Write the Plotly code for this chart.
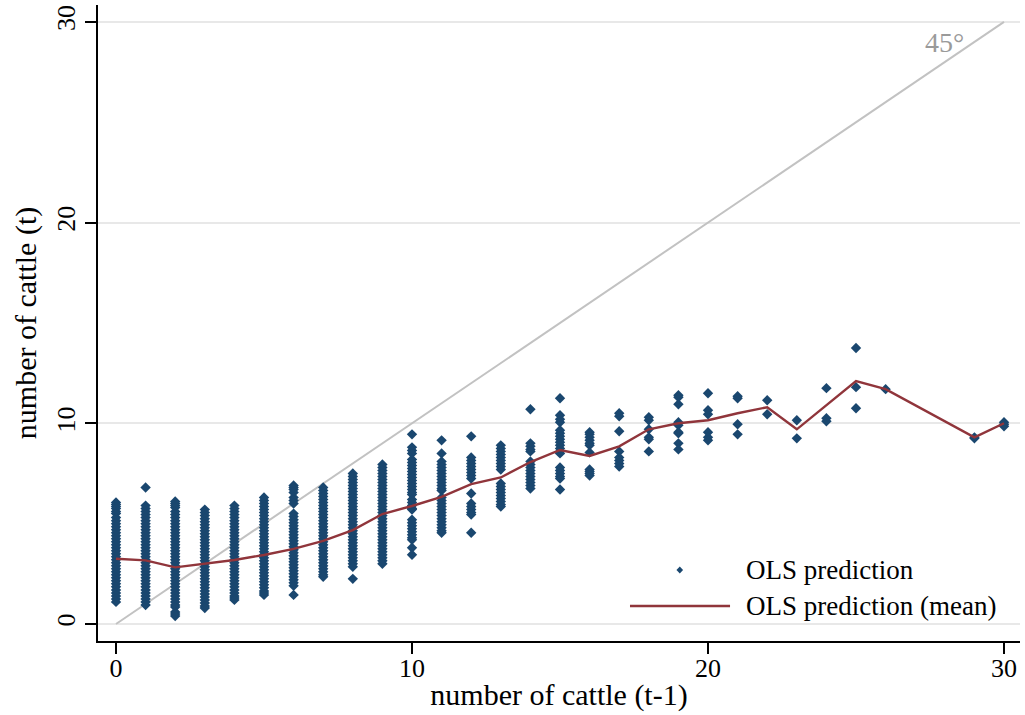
import plotly.graph_objects as go

# ---- data ----
y_at_0 = [6.05, 5.95, 5.85, 5.75, 5.6, 5.5, 5.3, 5.15, 5.0, 4.85, 4.7, 4.55, 4.4, 4.25, 4.1,
          3.95, 3.8, 3.65, 3.5, 3.35, 3.2, 3.05, 2.9, 2.75, 2.6, 2.45, 2.3, 2.15, 2.0, 1.85,
          1.7, 1.55, 1.4, 1.25, 1.1]
y_at_1 = [6.8, 5.9, 5.75, 5.6, 5.45, 5.3, 5.15, 5.0, 4.85, 4.7, 4.55, 4.4, 4.25, 4.1, 3.95,
          3.8, 3.65, 3.5, 3.35, 3.2, 3.05, 2.9, 2.75, 2.6, 2.45, 2.3, 2.15, 2.0, 1.85, 1.7,
          1.55, 1.4, 1.25, 1.1, 0.95]
y_at_2 = [6.1, 6.0, 5.9, 5.8, 5.6, 5.45, 5.3, 5.15, 5.0, 4.85, 4.7, 4.55, 4.4, 4.25, 4.1,
          3.95, 3.8, 3.65, 3.5, 3.35, 3.2, 3.05, 2.9, 2.75, 2.6, 2.45, 2.3, 2.15, 2.0, 1.85,
          1.7, 1.55, 1.4, 1.25, 1.1, 0.95, 0.85, 0.6, 0.5, 0.4]
y_at_3 = [5.7, 5.55, 5.4, 5.25, 5.1, 4.95, 4.8, 4.65, 4.5, 4.35, 4.2, 4.05, 3.9, 3.75, 3.6,
          3.45, 3.3, 3.15, 3.0, 2.85, 2.7, 2.55, 2.4, 2.25, 2.1, 1.95, 1.8, 1.65, 1.5, 1.35,
          1.2, 1.05, 0.9, 0.8]
y_at_4 = [5.9, 5.75, 5.6, 5.45, 5.3, 5.15, 5.0, 4.85, 4.7, 4.55, 4.4, 4.25, 4.1, 3.95, 3.8,
          3.65, 3.5, 3.35, 3.2, 3.05, 2.9, 2.75, 2.6, 2.45, 2.3, 2.15, 2.0, 1.85, 1.7, 1.55,
          1.4, 1.3, 1.2]
y_at_5 = [6.3, 6.15, 6.0, 5.85, 5.7, 5.55, 5.4, 5.25, 5.1, 4.95, 4.8, 4.65, 4.5, 4.35, 4.2,
          4.05, 3.9, 3.75, 3.6, 3.45, 3.3, 3.15, 3.0, 2.85, 2.7, 2.55, 2.4, 2.25, 2.1, 1.95,
          1.8, 1.65, 1.55, 1.45]
y_at_6 = [6.9, 6.8, 6.7, 6.55, 6.3, 6.15, 6.0, 5.5, 5.35, 5.2, 5.05, 4.9, 4.75, 4.6, 4.45,
          4.3, 4.15, 4.0, 3.85, 3.7, 3.55, 3.4, 3.25, 3.1, 2.95, 2.8, 2.65, 2.5, 2.35, 2.2,
          2.05, 1.9, 1.45]
y_at_7 = [6.8, 6.65, 6.5, 6.35, 6.2, 6.05, 5.9, 5.75, 5.6, 5.45, 5.3, 5.15, 5.0, 4.85, 4.7,
          4.55, 4.4, 4.25, 4.1, 3.95, 3.8, 3.65, 3.5, 3.35, 3.2, 3.05, 2.9, 2.75, 2.6, 2.45,
          2.35]
y_at_8 = [7.5, 7.35, 7.2, 7.05, 6.9, 6.75, 6.6, 6.45, 6.3, 6.15, 6.0, 5.85, 5.7, 5.55, 5.4,
          5.25, 5.1, 4.95, 4.8, 4.65, 4.5, 4.35, 4.2, 4.05, 3.9, 3.75, 3.6, 3.45, 3.3, 3.15,
          3.0, 2.85, 2.25]
y_at_9 = [7.95, 7.8, 7.65, 7.5, 7.35, 7.2, 7.05, 6.9, 6.75, 6.6, 6.45, 6.3, 6.15, 6.0, 5.85,
          5.7, 5.55, 5.4, 5.25, 5.1, 4.95, 4.8, 4.65, 4.5, 4.35, 4.2, 4.05, 3.9, 3.75, 3.6,
          3.45, 3.3, 3.15, 3.0]
y_at_10 = [9.45, 8.8, 8.65, 8.5, 8.2, 8.05, 7.9, 7.75, 7.6, 7.45, 7.3, 7.15, 7.0, 6.85, 6.7,
           6.55, 6.45, 6.2, 6.05, 5.9, 5.75, 5.7, 5.2, 5.05, 4.9, 4.75, 4.6, 4.45, 4.3, 4.2,
           3.8, 3.45]
y_at_11 = [9.15, 8.5, 8.1, 7.95, 7.8, 7.65, 7.5, 7.35, 7.2, 7.05, 6.9, 6.75, 6.65, 6.3, 6.15,
           6.0, 5.85, 5.7, 5.55, 5.4, 5.25, 5.1, 4.95, 4.8, 4.65, 4.55]
y_at_12 = [9.35, 8.3, 8.15, 8.0, 7.85, 7.7, 7.55, 7.4, 7.25, 6.5, 6.0, 5.85, 5.7, 5.55,
           5.45, 4.55]
y_at_13 = [8.9, 8.75, 8.6, 8.45, 8.3, 8.15, 8.0, 7.85, 7.7, 7.0, 6.85, 6.7, 6.55, 6.4, 6.25,
           6.1, 5.95, 5.85]
y_at_14 = [10.7, 9.0, 8.85, 8.7, 8.6, 8.1, 7.95, 7.8, 7.65, 7.5, 7.35, 7.2, 7.05, 6.9, 6.75]
y_at_15 = [11.25, 10.4, 10.2, 10.05, 9.65, 9.5, 9.35, 9.2, 9.05, 8.9, 8.75, 8.6, 8.5, 7.8,
           7.65, 7.5, 7.35, 7.25, 6.7]
y_at_16 = [9.55, 9.45, 9.3, 9.15, 9.0, 8.9, 8.55, 7.7, 7.6, 7.5, 7.4]
y_at_17 = [10.5, 10.35, 9.6, 8.6, 8.3, 8.15, 8.0, 7.85]
y_at_18 = [10.3, 10.15, 9.7, 9.3, 9.2, 8.6]
y_at_19 = [11.4, 11.3, 10.95, 10.05, 9.9, 9.55, 9.5, 9.0, 8.7]
y_at_20 = [11.5, 10.65, 10.45, 9.55, 9.3, 9.15]
y_at_21 = [11.35, 11.25, 9.95, 9.45]
y_at_22 = [11.15, 10.45]
y_at_23 = [10.15, 9.25]
y_at_24 = [11.75, 10.25, 10.1]
y_at_25 = [13.75, 11.8, 10.75]
y_at_26 = [11.7]
y_at_29 = [9.3, 9.25]
y_at_30 = [10.05, 9.95, 9.85]

mean_x = [0, 1, 2, 3, 4, 5, 6, 7, 8, 9, 10, 11, 12, 13, 14, 15, 16, 17, 18, 19, 20,
          21, 22, 23, 24, 25, 26, 29, 30]
mean_y = [3.25, 3.17, 2.82, 2.99, 3.19, 3.44, 3.74, 4.14, 4.68, 5.48, 5.88, 6.33, 6.97,
          7.3, 8.07, 8.67, 8.37, 8.85, 9.7, 10.0, 10.15, 10.5, 10.8, 9.7, 10.9, 12.1,
          11.7, 9.3, 10.0]

diag_x = [0, 30]
diag_y = [0, 30]

y_ticks = [0, 10, 20, 30]
x_ticks = [0, 10, 20, 30]

columns = {0: y_at_0, 1: y_at_1, 2: y_at_2, 3: y_at_3, 4: y_at_4, 5: y_at_5, 6: y_at_6,
           7: y_at_7, 8: y_at_8, 9: y_at_9, 10: y_at_10, 11: y_at_11, 12: y_at_12,
           13: y_at_13, 14: y_at_14, 15: y_at_15, 16: y_at_16, 17: y_at_17, 18: y_at_18,
           19: y_at_19, 20: y_at_20, 21: y_at_21, 22: y_at_22, 23: y_at_23, 24: y_at_24,
           25: y_at_25, 26: y_at_26, 29: y_at_29, 30: y_at_30}

pts_x, pts_y = [], []
for xv, ys in columns.items():
    pts_x.extend([xv] * len(ys))
    pts_y.extend(ys)

NAVY = "#1a476f"
MAROON = "#90353b"
FONT = "Liberation Serif"

fig = go.Figure()
fig.add_trace(go.Scatter(x=diag_x, y=diag_y, mode="lines",
                         line=dict(color="#c2c2c2", width=2),
                         showlegend=False, hoverinfo="skip"))
fig.add_trace(go.Scatter(x=pts_x, y=pts_y, mode="markers", name="OLS prediction",
                         marker=dict(symbol="diamond", size=8, color=NAVY,
                                     line=dict(width=0)),
                         showlegend=False))
fig.add_trace(go.Scatter(x=mean_x, y=mean_y, mode="lines",
                         name="OLS prediction (mean)",
                         line=dict(color=MAROON, width=2.4), showlegend=False))

# 45 degree label
fig.add_annotation(x=28.0, y=28.95, text="45°", showarrow=False,
                   font=dict(family=FONT, size=28, color="#9a9a9a"))

# manual legend (bottom right inside plot)
mx, my = 0.631, 0.1116
dx, dy = 0.0036, 0.0055
fig.add_shape(type="path", xref="paper", yref="paper",
              path=f"M {mx-dx},{my} L {mx},{my+dy} L {mx+dx},{my} L {mx},{my-dy} Z",
              fillcolor=NAVY, line=dict(width=0))
fig.add_shape(type="line", xref="paper", yref="paper", x0=0.577, x1=0.6855,
              y0=0.055, y1=0.055, line=dict(color=MAROON, width=2.4))
fig.add_annotation(xref="paper", yref="paper", x=0.701, y=my, xanchor="left",
                   yanchor="middle", text="OLS prediction", showarrow=False,
                   font=dict(family=FONT, size=27, color="black"))
fig.add_annotation(xref="paper", yref="paper", x=0.701, y=0.055, xanchor="left",
                   yanchor="middle", text="OLS prediction (mean)", showarrow=False,
                   font=dict(family=FONT, size=27, color="black"))

fig.update_layout(
    width=1025, height=715,
    margin=dict(l=98, r=5, t=5, b=74),
    paper_bgcolor="white", plot_bgcolor="white",
    font=dict(family=FONT, color="black"),
    xaxis=dict(range=[-0.608, 30.54], tickvals=x_ticks, ticks="outside", ticklen=11,
               tickwidth=1.5, tickcolor="black", showline=True, linecolor="black",
               linewidth=1.5, showgrid=False, zeroline=False,
               ticklabelstandoff=-8,
               tickfont=dict(family=FONT, size=26),
               title=dict(text="number of cattle (t-1)", font=dict(family=FONT, size=30),
                          standoff=2)),
    yaxis=dict(range=[-0.847, 30.84], tickvals=y_ticks, ticks="outside", ticklen=11,
               tickwidth=1.5, tickcolor="black", showline=True, linecolor="black",
               linewidth=1.5, showgrid=True, gridcolor="#e8e8e8", gridwidth=2,
               zeroline=False, tickangle=-90,
               tickfont=dict(family=FONT, size=26),
               title=dict(text="number of cattle (t)", font=dict(family=FONT, size=30),
                          standoff=6)),
)

fig.write_html("out.html")
